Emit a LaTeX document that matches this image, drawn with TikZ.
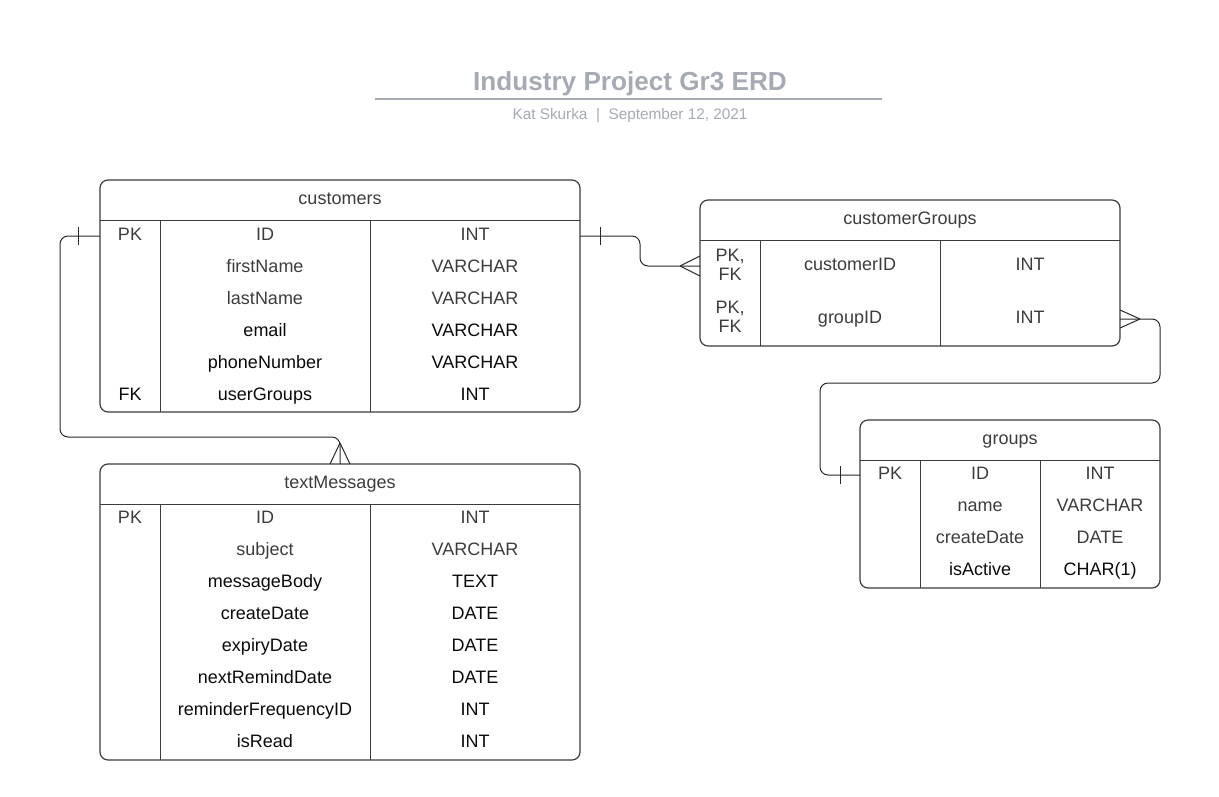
\documentclass[tikz,border=0pt]{standalone}
\usepackage{fontspec}
\setmainfont{Liberation Sans}
\definecolor{titlec}{RGB}{166,170,180}
\definecolor{boxc}{RGB}{60,60,60}
\definecolor{linec}{RGB}{40,40,40}
\definecolor{gtxt}{RGB}{60,60,60}
\definecolor{dtxt}{RGB}{10,10,10}
\begin{document}
\begin{tikzpicture}[x=0.75pt,y=-0.75pt,
  tbl/.style={draw=boxc, line width=0.9pt, rounded corners=6pt, inner sep=0pt, outer sep=0pt},
  cell/.style={inner sep=0pt, anchor=base, font=\fontsize{13.5}{16}\selectfont},
  gc/.style={cell, text=gtxt},
  dc/.style={cell, text=dtxt},
  inl/.style={draw=boxc, line width=0.75pt},
  conn/.style={draw=linec, line width=0.75pt, rounded corners=6pt},
  crow/.style={draw=linec, line width=0.75pt}
]
\useasboundingbox (0,0) rectangle (1219,796);

% ---------- title ----------
\node[text=titlec, font=\fontsize{19.6}{22}\selectfont\bfseries, anchor=base, inner sep=0pt] (title) at (630,90) {Industry Project Gr3 ERD};
\draw[titlec, line width=1.5pt] (375,99) coordinate (tl) -- (882,99) coordinate (tr);
\node[text=titlec, font=\fontsize{11.5}{14}\selectfont, anchor=base, inner sep=0pt] (subtitle) at (630,119) {Kat Skurka\ \ |\ \ September 12, 2021};

% ---------- customers ----------
\node[tbl, minimum width=360pt, minimum height=174pt] (cust) at (340,296) {};
\draw[inl] (100,220) -- (580,220);
\draw[inl] (160,220) -- (160,412);
\draw[inl] (370,220) -- (370,412);
\node[gc] (custH) at (340,204) {customers};
\foreach \y/\k/\n/\t/\s [count=\i] in {
  234/PK/ID/INT/gc,
  266/{}/firstName/VARCHAR/gc,
  298/{}/lastName/VARCHAR/gc,
  330/{}/email/VARCHAR/dc,
  362/{}/phoneNumber/VARCHAR/dc,
  394/FK/userGroups/INT/dc}{
  \node[\s] (custK\i) at (130,\y+6.5) {\k};
  \node[\s] (custN\i) at (265,\y+6.5) {\n};
  \node[\s] (custT\i) at (475,\y+6.5) {\t};
}

% ---------- customerGroups ----------
\node[tbl, minimum width=315pt, minimum height=109.5pt] (cg) at (910,273) {};
\draw[inl] (700,240) -- (1120,240);
\draw[inl] (760,240) -- (760,346);
\draw[inl] (940,240) -- (940,346);
\node[gc] (cgH) at (910,224) {customerGroups};
\node[gc] (cgK1a) at (730,261.5) {PK,};
\node[gc] (cgK1b) at (730,280) {FK};
\node[gc] (cgN1) at (850,270.5) {customerID};
\node[gc] (cgT1) at (1030,270.5) {INT};
\node[gc] (cgK2a) at (730,313.5) {PK,};
\node[gc] (cgK2b) at (730,332.5) {FK};
\node[gc] (cgN2) at (850,323.5) {groupID};
\node[gc] (cgT2) at (1030,323.5) {INT};

% ---------- groups ----------
\node[tbl, minimum width=225pt, minimum height=126pt] (grp) at (1010,504) {};
\draw[inl] (860,460) -- (1160,460);
\draw[inl] (920,460) -- (920,588);
\draw[inl] (1040,460) -- (1040,588);
\node[gc] (grpH) at (1010,444) {groups};
\foreach \y/\k/\n/\t/\s [count=\i] in {
  473/PK/ID/INT/gc,
  505/{}/name/VARCHAR/gc,
  537/{}/createDate/DATE/gc,
  569/{}/isActive/CHAR(1)/dc}{
  \node[\s] (grpK\i) at (890,\y+6.5) {\k};
  \node[\s] (grpN\i) at (980,\y+6.5) {\n};
  \node[\s] (grpT\i) at (1100,\y+6.5) {\t};
}

% ---------- textMessages ----------
\node[tbl, minimum width=360pt, minimum height=222pt] (tm) at (340,612) {};
\draw[inl] (100,504) -- (580,504);
\draw[inl] (160,504) -- (160,760);
\draw[inl] (370,504) -- (370,760);
\node[gc] (tmH) at (340,488) {textMessages};
\foreach \y/\k/\n/\t/\s [count=\i] in {
  517/PK/ID/INT/gc,
  549/{}/subject/VARCHAR/gc,
  581/{}/messageBody/TEXT/dc,
  613/{}/createDate/DATE/dc,
  645/{}/expiryDate/DATE/dc,
  677/{}/nextRemindDate/DATE/dc,
  709/{}/reminderFrequencyID/INT/dc,
  741/{}/isRead/INT/dc}{
  \node[\s] (tmK\i) at (130,\y+6.5) {\k};
  \node[\s] (tmN\i) at (265,\y+6.5) {\n};
  \node[\s] (tmT\i) at (475,\y+6.5) {\t};
}

% ---------- connectors ----------
% customers.ID -> customerGroups.customerID
\coordinate (custR) at (580,236);
\coordinate (cgL) at (700,266);
\draw[conn] (custR) -- (640,236) -- (640,266) -- (cgL);
\draw[crow] (600,227) -- (600,245);
\draw[crow] (680,266) -- (700,256);
\draw[crow] (680,266) -- (700,276);

% customerGroups.groupID -> groups.ID
\coordinate (cgR) at (1120,319);
\coordinate (grpL) at (860,475);
\draw[conn] (cgR) -- (1160,319) -- (1160,383) -- (820,383) -- (820,475) -- (grpL);
\draw[crow] (1140,319) -- (1120,310);
\draw[crow] (1140,319) -- (1120,328);
\draw[crow] (840,466) -- (840,484);

% customers.ID -> textMessages
\coordinate (custL) at (100,236);
\coordinate (tmT) at (340,464);
\draw[conn] (custL) -- (60,236) -- (60,437) -- (340,437) -- (tmT);
\draw[crow] (78,227) -- (78,245);
\draw[crow] (340,443) -- (330,464);
\draw[crow] (340,443) -- (350,464);
\end{tikzpicture}
\end{document}
